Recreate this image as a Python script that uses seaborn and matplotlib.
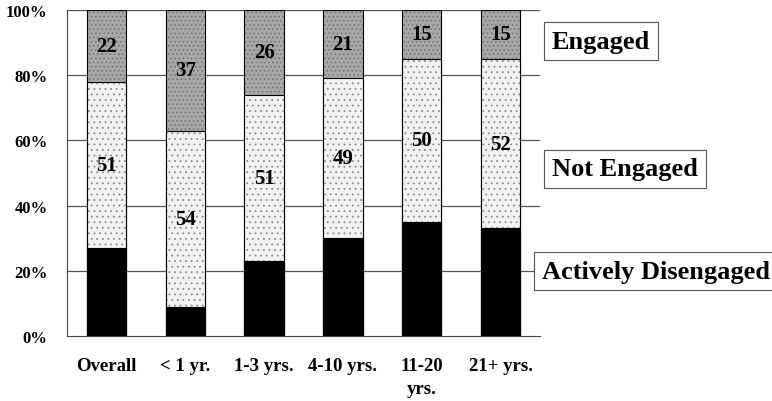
import matplotlib
matplotlib.use("Agg")
import matplotlib.pyplot as plt
import seaborn as sns
import pandas as pd
import numpy as np

categories = ["Overall", "< 1 yr.", "1-3 yrs.", "4-10 yrs.", "11-20\nyrs.", "21+ yrs."]
actively_disengaged = [27, 9, 23, 30, 35, 33]
not_engaged = [51, 54, 51, 49, 50, 52]
engaged = [22, 37, 26, 21, 15, 15]
yticks = [0, 20, 40, 60, 80, 100]
ytick_labels = ["0%", "20%", "40%", "60%", "80%", "100%"]

sns.set_theme(style="white")
plt.rcParams["font.family"] = ["Liberation Serif", "DejaVu Serif"]
plt.rcParams["hatch.linewidth"] = 0.6
plt.rcParams["text.color"] = "black"
plt.rcParams["xtick.color"] = "black"
plt.rcParams["ytick.color"] = "black"

df = pd.DataFrame({
    "cat": categories,
    "ad": actively_disengaged,
    "ne": not_engaged,
    "en": engaged,
})
df["top_total"] = df["ad"] + df["ne"] + df["en"]
df["mid_total"] = df["ad"] + df["ne"]

fig = plt.figure(figsize=(7.72, 4.02), dpi=100)
ax = fig.add_axes([0.0868, 0.1617, 0.6127, 0.8109])

layers = [
    ("top_total", "#a8a8a8", "#6e6e6e", "...."),
    ("mid_total", "#f2f2f2", "#8a8a8a", "..."),
    ("ad", "#000000", "#000000", None),
]
for col, fc, hc, hatch in layers:
    n_before = len(ax.patches)
    sns.barplot(data=df, x="cat", y=col, ax=ax, color=fc, width=0.5,
                saturation=1, edgecolor="black", linewidth=0.8, zorder=3)
    for p in ax.patches[n_before:]:
        p.set_facecolor(fc)
        if hatch:
            p.set_hatch(hatch)
            p._hatch_color = matplotlib.colors.to_rgba(hc)

ax.set_ylim(0, 100)
ax.set_xlim(-0.5, len(categories) - 0.5)
ax.set_yticks(yticks)
ax.set_yticklabels(ytick_labels, fontsize=12, fontweight="bold")
ax.set_xticks(range(len(categories)))
ax.set_xticklabels(categories, fontsize=13.5, fontweight="bold", linespacing=1.5)
ax.tick_params(axis="x", pad=15, length=0)
ax.tick_params(axis="y", pad=14, length=0)
ax.set_xlabel("")
ax.set_ylabel("")
for y in yticks[1:]:
    ax.axhline(y, color="#555555", linewidth=0.9, zorder=1)
for s in ["top", "right"]:
    ax.spines[s].set_visible(False)
ax.spines["left"].set_color("#444444")
ax.spines["bottom"].set_color("#444444")
ax.spines["left"].set_linewidth(0.8)
ax.spines["bottom"].set_linewidth(0.8)

for i in range(len(categories)):
    ne_c = actively_disengaged[i] + not_engaged[i] / 2
    en_c = actively_disengaged[i] + not_engaged[i] + engaged[i] / 2
    ax.text(i, ne_c, str(not_engaged[i]), ha="center", va="center",
            fontsize=15, fontweight="bold", color="black", zorder=5)
    ax.text(i, en_c, str(engaged[i]), ha="center", va="center",
            fontsize=15, fontweight="bold", color="black", zorder=5)

box = dict(boxstyle="square,pad=0.3", facecolor="white", edgecolor="#555555", linewidth=0.8)
fig.text(601 / 772, 1 - 42 / 402, "Engaged", ha="center", va="center",
         fontsize=19, fontweight="bold", color="black", bbox=box)
fig.text(625 / 772, 1 - 170 / 402, "Not Engaged", ha="center", va="center",
         fontsize=19, fontweight="bold", color="black", bbox=box)
fig.text(656 / 772, 1 - 272 / 402, "Actively Disengaged", ha="center", va="center",
         fontsize=19, fontweight="bold", color="black", bbox=box)

fig.savefig("out.png", dpi=100)
